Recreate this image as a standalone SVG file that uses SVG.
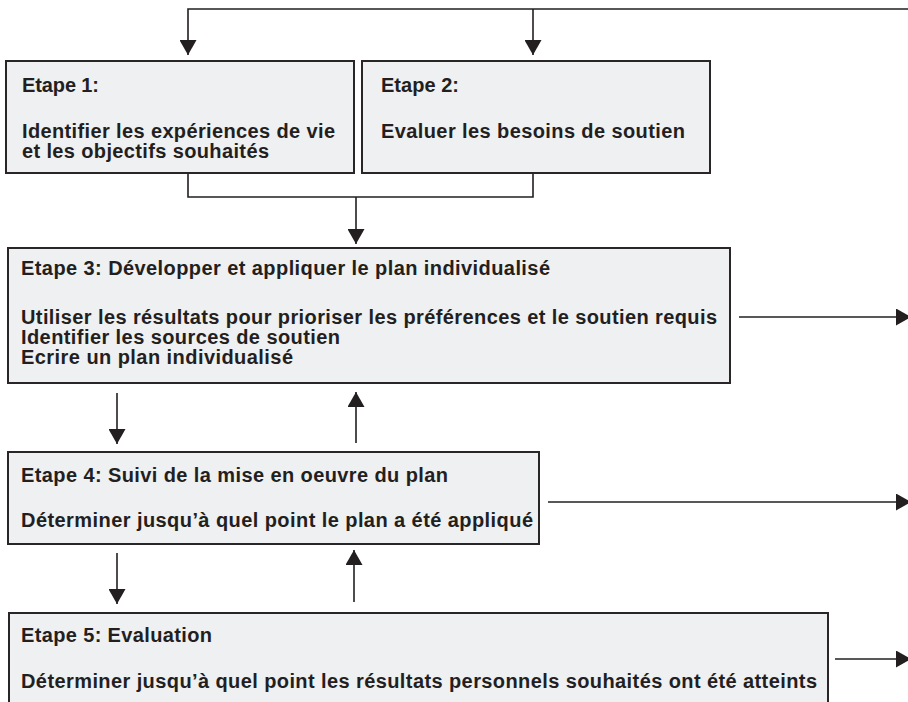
<svg xmlns="http://www.w3.org/2000/svg" width="908" height="702" viewBox="0 0 908 702">
  <style>
    .box { fill: #eff0f2; stroke: #2a2627; stroke-width: 2; }
    .t { font-family: "Liberation Sans", Arial, sans-serif; font-weight: bold; font-size: 20px; fill: #231f20; }
    .c { fill: none; stroke: #231f20; stroke-width: 1.6; }
  </style>
  <defs>
    <marker id="ah" viewBox="0 0 15 17" refX="15" refY="8.5" markerWidth="15" markerHeight="17" markerUnits="userSpaceOnUse" orient="auto">
      <path d="M0,0 L15,8.5 L0,17 Z" fill="#231f20"/>
    </marker>
  </defs>
  <rect width="908" height="702" fill="#ffffff"/>

  <g id="connectors">
    <polyline class="c" points="908,9 188,9 188,55" marker-end="url(#ah)"/>
    <line class="c" x1="533" y1="9" x2="533" y2="55" marker-end="url(#ah)"/>
    <polyline class="c" points="188,173 188,197 533,197 533,173"/>
    <line class="c" x1="356" y1="197" x2="356" y2="244" marker-end="url(#ah)"/>
    <line class="c" x1="117" y1="393" x2="117" y2="444" marker-end="url(#ah)"/>
    <line class="c" x1="356" y1="443" x2="356" y2="392" marker-end="url(#ah)"/>
    <line class="c" x1="117" y1="553" x2="117" y2="604" marker-end="url(#ah)"/>
    <line class="c" x1="354" y1="602" x2="354" y2="550" marker-end="url(#ah)"/>
    <line class="c" x1="739" y1="317" x2="911" y2="317" marker-end="url(#ah)"/>
    <line class="c" x1="548" y1="502" x2="911" y2="502" marker-end="url(#ah)"/>
    <line class="c" x1="835" y1="659" x2="911" y2="659" marker-end="url(#ah)"/>
  </g>

  <g id="etape1">
    <rect class="box" x="6" y="61" width="348" height="112"/>
    <text class="t" x="22" y="92" textLength="77">Etape 1:</text>
    <text class="t" x="22" y="138" textLength="313">Identifier les expériences de vie</text>
    <text class="t" x="22" y="158" textLength="247">et les objectifs souhaités</text>
  </g>

  <g id="etape2">
    <rect class="box" x="362" y="61" width="348" height="112"/>
    <text class="t" x="381" y="92" textLength="78">Etape 2:</text>
    <text class="t" x="381" y="138" textLength="304">Evaluer les besoins de soutien</text>
  </g>

  <g id="etape3">
    <rect class="box" x="8" y="248" width="722" height="135"/>
    <text class="t" x="21" y="275" textLength="529">Etape 3: Développer et appliquer le plan individualisé</text>
    <text class="t" x="21" y="324" textLength="696">Utiliser les résultats pour prioriser les préférences et le soutien requis</text>
    <text class="t" x="21" y="344" textLength="319">Identifier les sources de soutien</text>
    <text class="t" x="21" y="364" textLength="272">Ecrire un plan individualisé</text>
  </g>

  <g id="etape4">
    <rect class="box" x="8" y="452" width="531" height="92"/>
    <text class="t" x="21" y="482" textLength="427">Etape 4: Suivi de la mise en oeuvre du plan</text>
    <text class="t" x="21" y="527" textLength="512">Déterminer jusqu’à quel point le plan a été appliqué</text>
  </g>

  <g id="etape5">
    <rect class="box" x="9" y="613" width="819" height="100"/>
    <text class="t" x="21" y="642" textLength="191">Etape 5: Evaluation</text>
    <text class="t" x="21" y="688" textLength="796">Déterminer jusqu’à quel point les résultats personnels souhaités ont été atteints</text>
  </g>
</svg>
